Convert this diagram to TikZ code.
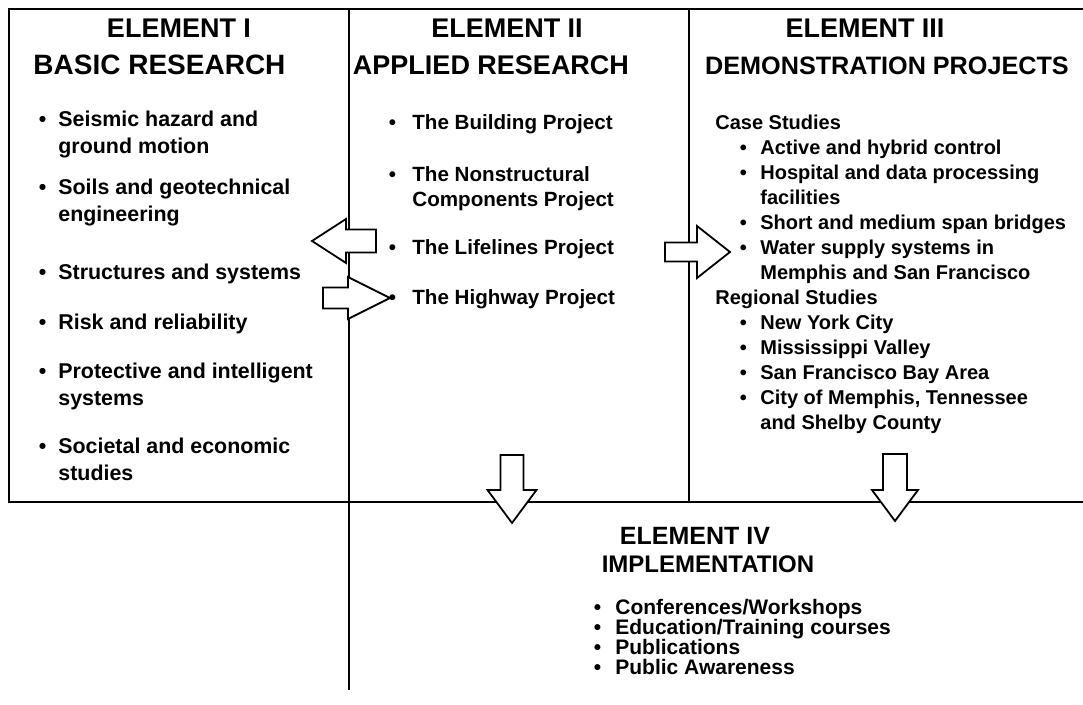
\documentclass[tikz,border=0pt]{standalone}
\usepackage{fontspec}
\setmainfont{Liberation Sans}
\usepackage{tikz}

\newcommand{\bitem}[2][9.75pt]{\makebox[#1][l]{\textbullet}\parbox[t]{170pt}{#2}}

\tikzset{
	frame/.style={line width=1pt},
	blockarrow/.style={draw, fill=white, line width=0.9pt, line join=miter},
	head/.style={anchor=base, inner sep=0pt, font=\fontsize{#1}{16}\selectfont\bfseries},
	head/.default=13.5,
	txt/.style={anchor=base west, inner sep=0pt},
	colI/.style={txt, font=\fontsize{10.7}{13.25}\selectfont\bfseries},
	colII/.style={txt, font=\fontsize{10.3}{12.5}\selectfont\bfseries},
	colIII/.style={txt, font=\fontsize{10}{12.5}\selectfont\bfseries},
	colIV/.style={txt, font=\fontsize{10.5}{12.5}\selectfont\bfseries}
}

\begin{document}
\begin{tikzpicture}[x=0.5pt,y=-0.5pt]
			\useasboundingbox (0,0) rectangle (1083,705);
			
			% frame lines
			\coordinate (TL) at (9,9);
			\coordinate (TR) at (1083,9);
			\coordinate (BL) at (9,502);
			\coordinate (BR) at (1083,502);
			\draw[frame] (TR)--(TL)--(BL)--(BR);
			\draw[frame] (349,9)--(349,690);
			\draw[frame] (689,9)--(689,502);
			
			% element I
			\node[head] (h1a) at (179,38){ELEMENT I};
			\node[head=14] (h1b) at (159.5,75){BASIC RESEARCH};
			\node[colI] (b1) at (38.5,127){\bitem{Seismic hazard and\\ground motion}};
			\node[colI] (b2) at (38.5,195){\bitem{Soils and geotechnical\\engineering}};
			\node[colI] (b3) at (38.5,280){\bitem{Structures and systems}};
			\node[colI] (b4) at (38.5,330){\bitem{Risk and reliability}};
			\node[colI] (b5) at (38.5,379){\bitem{Protective and intelligent\\systems}};
			\node[colI] (b6) at (38.5,454){\bitem{Societal and economic\\studies}};
			
			% element II
			\node[head] (h2a) at (507,38){ELEMENT II};
			\node[head] (h2b) at (491,75){APPLIED RESEARCH};
			\node[colII] (a1) at (388.5,130){\bitem[11.75pt]{The Building Project}};
			\node[colII] (a2) at (388.5,182){\bitem[11.75pt]{The Nonstructural\\Components Project}};
			\node[colII] (a3) at (388.5,255){\bitem[11.75pt]{The Lifelines Project}};
			\node[colII] (a4) at (388.5,305){\bitem[11.75pt]{The Highway Project}};
			
			% element III
			\node[head] (h3a) at (865,38){ELEMENT III};
			\node[head=12.6] (h3b) at (887,75){DEMONSTRATION PROJECTS};
			\node[colIII] (cs) at (715,130){Case Studies};
			\node[colIII] (d1) at (739.5,155){\bitem[10.25pt]{Active and hybrid control}};
			\node[colIII] (d2) at (739.5,180){\bitem[10.25pt]{Hospital and data processing\\facilities}};
			\node[colIII] (d3) at (739.5,230){\bitem[10.25pt]{Short and medium span bridges}};
			\node[colIII] (d4) at (739.5,255){\bitem[10.25pt]{Water supply systems in\\Memphis and San Francisco}};
			\node[colIII] (rs) at (715,305){Regional Studies};
			\node[colIII] (r1) at (739.5,330){\bitem[10.25pt]{New York City}};
			\node[colIII] (r2) at (739.5,355){\bitem[10.25pt]{Mississippi Valley}};
			\node[colIII] (r3) at (739.5,380){\bitem[10.25pt]{San Francisco Bay Area}};
			\node[colIII] (r4) at (739.5,405){\bitem[10.25pt]{City of Memphis, Tennessee\\and Shelby County}};
			
			% element IV
			\node[head=12.5] (h4a) at (695,545){ELEMENT IV};
			\node[head=12] (h4b) at (708,573){IMPLEMENTATION};
			\node[colIV] (e1) at (593.5,615){\bitem[10.75pt]{Conferences/Workshops}};
			\node[colIV] (e2) at (593.5,635){\bitem[10.75pt]{Education/Training courses}};
			\node[colIV] (e3) at (593.5,655){\bitem[10.75pt]{Publications}};
			\node[colIV] (e4) at (593.5,675){\bitem[10.75pt]{Public Awareness}};
			
			% block arrows
			\draw[blockarrow] (312,241)--(346,219)--(346,229.5)--(376,229.5)--(376,252.5)--(346,252.5)--(346,263)--cycle;
			\draw[blockarrow] (390,298)--(348,277)--(348,287.5)--(323,287.5)--(323,308.5)--(348,308.5)--(348,319)--cycle;
			\draw[blockarrow] (730,252)--(697,226)--(697,242.5)--(665,242.5)--(665,261.5)--(697,261.5)--(697,278)--cycle;
			\draw[blockarrow] (512,523)--(487.5,490)--(500.5,490)--(500.5,455)--(523.5,455)--(523.5,490)--(536.5,490)--cycle;
			\draw[blockarrow] (895,521)--(872,490)--(883,490)--(883,454)--(907,454)--(907,490)--(918,490)--cycle;
		\end{tikzpicture}
\end{document}
